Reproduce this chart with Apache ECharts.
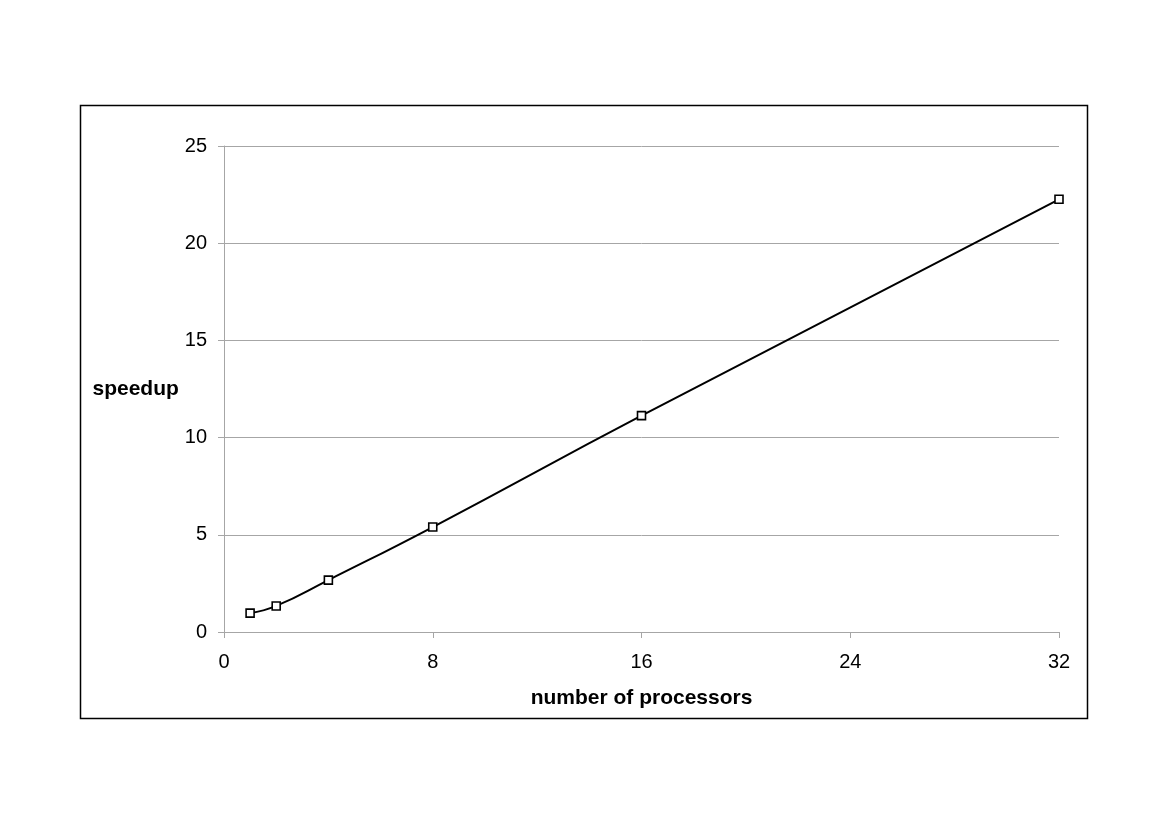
<!DOCTYPE html>
<html lang="en">

<head>
    <meta charset="utf-8">
    <title>Speedup</title>
    <script type="text/javascript" src="https://cdn.jsdelivr.net/npm/echarts@6/dist/echarts.min.js"></script>
    <style>
        html, body { margin: 0; padding: 0; background: #fff; }
        #chart { width: 1170px; height: 827px; }
    </style>
</head>

<body>
    <div id="chart"></div>

    <script>
        // processors vs. measured speedup
        const processors = [1, 2, 4, 8, 16, 32];
        const speedup = [0.97, 1.34, 2.67, 5.4, 11.13, 22.26];
        const xTicks = [0, 8, 16, 24, 32];
        const yTicks = [0, 5, 10, 15, 20, 25];

        const chart = echarts.init(document.getElementById('chart'));
        const font = '"Liberation Sans", Arial, sans-serif';
        const gray = '#a6a6a6';

        const option = {
            animation: false,
            backgroundColor: '#fff',
            textStyle: { fontFamily: font },
            grid: { left: 224, right: 111, top: 146, bottom: 195 },
            graphic: [{
                type: 'rect',
                shape: { x: 80.5, y: 105.5, width: 1007, height: 613 },
                style: { fill: 'none', stroke: '#000', lineWidth: 1.5 },
                silent: true
            }],
            xAxis: {
                type: 'value',
                min: xTicks[0],
                max: xTicks[xTicks.length - 1],
                interval: xTicks[1] - xTicks[0],
                name: 'number of processors',
                nameLocation: 'middle',
                nameGap: 56,
                nameTextStyle: { fontSize: 21, fontWeight: 'bold', color: '#000', fontFamily: font },
                axisLine: { lineStyle: { color: gray, width: 1 } },
                axisTick: { show: true, inside: false, length: 6, lineStyle: { color: gray } },
                axisLabel: { fontSize: 20, color: '#000', margin: 20, fontFamily: font },
                splitLine: { show: false }
            },
            yAxis: {
                type: 'value',
                min: yTicks[0],
                max: yTicks[yTicks.length - 1],
                interval: yTicks[1] - yTicks[0],
                name: 'speedup',
                nameLocation: 'middle',
                nameRotate: 0,
                nameGap: 43,
                nameTextStyle: { fontSize: 21, fontWeight: 'bold', color: '#000', fontFamily: font },
                axisLine: { show: true, lineStyle: { color: gray, width: 1 } },
                axisTick: { show: true, inside: false, length: 6, lineStyle: { color: gray } },
                axisLabel: { fontSize: 20, color: '#000', margin: 17, fontFamily: font },
                splitLine: { show: true, lineStyle: { color: gray, width: 1 } }
            },
            series: [{
                type: 'line',
                data: processors.map((p, i) => [p, speedup[i]]),
                smooth: 0.5,
                symbol: 'rect',
                symbolSize: 8,
                showAllSymbol: true,
                lineStyle: { color: '#000', width: 2 },
                itemStyle: { color: '#fff', borderColor: '#000', borderWidth: 1.6 }
            }]
        };

        chart.setOption(option);
    </script>
</body>

</html>
